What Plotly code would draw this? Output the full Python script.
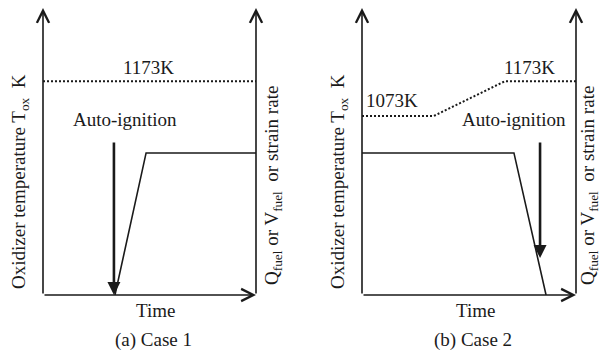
import plotly.graph_objects as go

W, H = 603, 351
FONT = "Liberation Serif"

# --- data (time and level in arbitrary units, 0..10) ---
# Case 1
a_tox_t = [0.0, 10.0]
a_tox_v = [7.45, 7.45]
a_flow_t = [3.38, 4.84, 10.0]
a_flow_v = [0.0, 4.95, 4.95]
a_ign_t = 3.33
a_ign_from, a_ign_to = 5.37, 0.0
# Case 2
b_tox_t = [0.0, 3.36, 6.68, 10.0]
b_tox_v = [6.24, 6.24, 7.45, 7.45]
b_flow_t = [0.0, 7.10, 8.60]
b_flow_v = [4.95, 4.95, 0.0]
b_ign_t = 8.32
b_ign_from, b_ign_to = 5.37, 1.29

labels_tox = {"a": [("1173K", 4.93, 7.91)], "b": [("1073K", 1.40, 6.79), ("1173K", 7.85, 7.91)]}
ign_text = {"a": (3.85, 6.13), "b": (7.10, 6.13)}
captions = ["(a) Case 1", "(b) Case 2"]

# --- layout geometry (pixels) ---
ybot, ytop = 295, 8
panels = {"a": (43, 256), "b": (362, 576)}
right_off = {"a": 17, "b": 13}

fig = go.Figure()
lay = dict(width=W, height=H, margin=dict(l=0, r=0, t=0, b=0),
           paper_bgcolor="white", plot_bgcolor="white", showlegend=False,
           font=dict(family=FONT, size=19, color="#1a1a1a"))
ann = []
C = dict(xanchor="center", yanchor="middle", showarrow=False)
for i, key in enumerate(["a", "b"]):
    n = "" if i == 0 else str(i + 1)
    x0, x1 = panels[key]
    lay["xaxis" + n] = dict(domain=[x0 / W, x1 / W], range=[0, 10], visible=False,
                             fixedrange=True, anchor="y" + n)
    lay["yaxis" + n] = dict(domain=[1 - ybot / H, 1 - ytop / H], range=[0, 10], visible=False,
                             fixedrange=True, anchor="x" + n)
    xr, yr = "x" + n, "y" + n
    tox_t, tox_v = (a_tox_t, a_tox_v) if key == "a" else (b_tox_t, b_tox_v)
    fl_t, fl_v = (a_flow_t, a_flow_v) if key == "a" else (b_flow_t, b_flow_v)
    fig.add_trace(go.Scatter(x=tox_t, y=tox_v, mode="lines", xaxis=xr, yaxis=yr,
                             line=dict(color="#1a1a1a", width=2, dash="2px,2px")))
    fig.add_trace(go.Scatter(x=fl_t, y=fl_v, mode="lines", xaxis=xr, yaxis=yr,
                             line=dict(color="#1a1a1a", width=1.6)))
    # axes with arrows
    for (tx, ty, fx, fy) in [(0, 10, 0, 0), (10, 10, 10, 0), (10, 0, 0, 0)]:
        ann.append(dict(x=tx, y=ty, ax=fx, ay=fy, xref=xr, yref=yr, axref=xr, ayref=yr,
                        showarrow=True, arrowhead=5, arrowsize=1.5, arrowwidth=1.6,
                        arrowcolor="#1a1a1a", text=""))
    # ignition arrow
    it, ifr, ito = (a_ign_t, a_ign_from, a_ign_to) if key == "a" else (b_ign_t, b_ign_from, b_ign_to)
    ann.append(dict(x=it, y=ito, ax=it, ay=ifr, xref=xr, yref=yr, axref=xr, ayref=yr,
                    showarrow=True, arrowhead=2, arrowsize=1.0, arrowwidth=2.6,
                    arrowcolor="#1a1a1a", text=""))
    for (t, x, y) in labels_tox[key]:
        ann.append(dict(x=x, y=y, xref=xr, yref=yr, text=t, **C))
    ann.append(dict(x=ign_text[key][0], y=ign_text[key][1], xref=xr, yref=yr,
                    text="Auto-ignition", **C))
    # axis titles
    cx = (x0 + x1) / 2
    ann.append(dict(x=(cx + 6) / W, y=1 - 310 / H, xref="paper", yref="paper",
                    text="Time", **C))
    ann.append(dict(x=(cx + 4) / W, y=1 - 340 / H, xref="paper", yref="paper",
                    text=captions[i], **C))
    ann.append(dict(x=(x0 - 23) / W, y=1 - 182 / H, xref="paper", yref="paper", textangle=-90,
                    text="Oxidizer temperature T<sub>ox</sub>  K", **C))
    ann.append(dict(x=(x1 + right_off[key]) / W, y=1 - 186 / H, xref="paper", yref="paper",
                    textangle=-90,
                    text="Q<sub>fuel</sub> or V<sub>fuel</sub>  or strain rate", **C))

lay["annotations"] = ann
fig.update_layout(**lay)
fig.write_html("out.html")
